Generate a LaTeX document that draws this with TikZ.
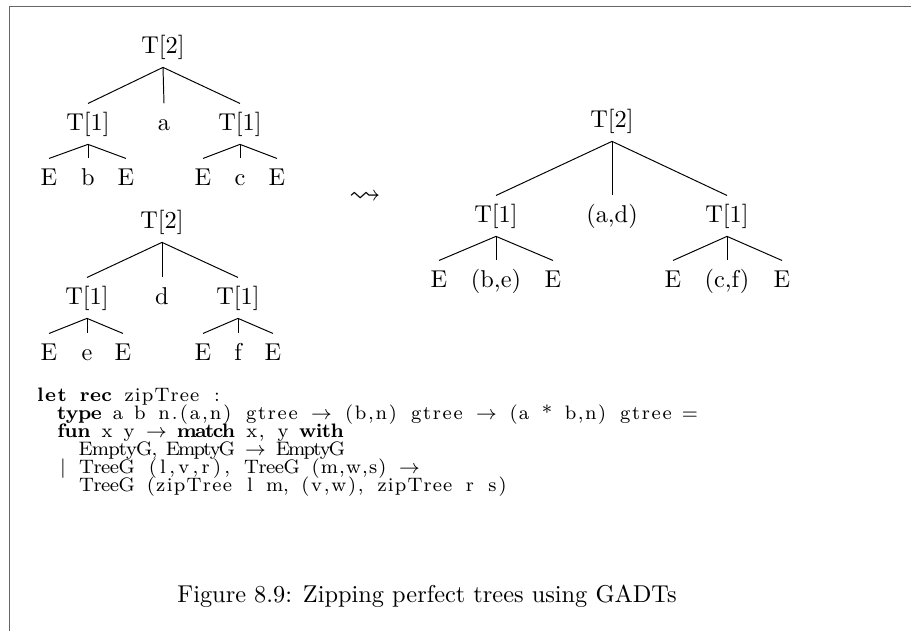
\documentclass[tikz,border=0pt]{standalone}
\usepackage{amssymb}
\usepackage{fontspec}
\newlength\cw
\setlength\cw{4.518pt}
\ExplSyntaxOn
\NewDocumentCommand\lw{m}{\hbox~to~\tl_count:n{#1}\cw{\hss\tl_map_inline:nn{#1}{##1\hss}}}
\ExplSyntaxOff
\newcommand\kw[1]{{\bfseries\lw{#1}}}
\newcommand\spc{\hbox to\cw{}}
\newcommand\ar{\hbox to 2\cw{\hss$\rightarrow$\hss}}
\begin{document}
\begin{tikzpicture}[x=0.4107pt,y=-0.4107pt,
  tn/.style={anchor=base,inner xsep=1pt,inner ysep=3.2pt,text height=7.5pt,text depth=2.5pt,font=\fontsize{10}{12}\selectfont},
  code/.style={anchor=base west,inner sep=0pt,font=\fontsize{8}{9}\selectfont},
  edge/.style={line width=0.4pt},
  frame/.style={black!60,line width=0.6pt}]
\useasboundingbox (0,0) rectangle (911,631);
\coordinate (fbl) at (9.5,631);
\coordinate (ftl) at (9.5,6.5);
\coordinate (ftr) at (911,6.5);
\draw[frame] (fbl) -- (ftl) -- (ftr);

% tree 1
\node[tn] (A) at (163,53) {T[2]};
\node[tn] (A1) at (88,130) {T[1]};
\node[tn] (Aa) at (164,130) {a};
\node[tn] (A2) at (240,130) {T[1]};
\node[tn] (A11) at (49,185) {E};
\node[tn] (A12) at (88,185) {b};
\node[tn] (A13) at (126,185) {E};
\node[tn] (A21) at (203,185) {E};
\node[tn] (A22) at (240,185) {c};
\node[tn] (A23) at (277,185) {E};
\foreach \c in {A1,Aa,A2} \draw[edge] (A.south) -- (\c.north);
\foreach \c in {A11,A12,A13} \draw[edge] (A1.south) -- (\c.north);
\foreach \c in {A21,A22,A23} \draw[edge] (A2.south) -- (\c.north);

% tree 2
\node[tn] (B) at (162,228) {T[2]};
\node[tn] (B1) at (87,304) {T[1]};
\node[tn] (Bd) at (162,304) {d};
\node[tn] (B2) at (238,304) {T[1]};
\node[tn] (B11) at (49,360) {E};
\node[tn] (B12) at (87,360) {e};
\node[tn] (B13) at (123,360) {E};
\node[tn] (B21) at (203,360) {E};
\node[tn] (B22) at (238,360) {f};
\node[tn] (B23) at (273,360) {E};
\foreach \c in {B1,Bd,B2} \draw[edge] (B.south) -- (\c.north);
\foreach \c in {B11,B12,B13} \draw[edge] (B1.south) -- (\c.north);
\foreach \c in {B21,B22,B23} \draw[edge] (B2.south) -- (\c.north);

% tree 3
\node[tn] (C) at (612,127) {T[2]};
\node[tn] (C1) at (496,222) {T[1]};
\node[tn] (Cad) at (612,222) {(a,d)};
\node[tn] (C2) at (727,222) {T[1]};
\node[tn] (C11) at (439,287) {E};
\node[tn] (C12) at (496,287) {(b,e)};
\node[tn] (C13) at (553,287) {E};
\node[tn] (C21) at (673,287) {E};
\node[tn] (C22) at (727,287) {(c,f)};
\node[tn] (C23) at (782,287) {E};
\foreach \c in {C1,Cad,C2} \draw[edge] (C.south) -- (\c.north);
\foreach \c in {C11,C12,C13} \draw[edge] (C1.south) -- (\c.north);
\foreach \c in {C21,C22,C23} \draw[edge] (C2.south) -- (\c.north);

\node[inner sep=0pt,font=\fontsize{13}{15}\selectfont] (arr) at (365,198) {$\leadsto$};

% code (fixed columns)
\node[code] (l1) at (35,401) {\kw{let}\spc\kw{rec}\spc\lw{zipTree}\spc\lw{:}};
\node[code] (l2) at (57,419) {\kw{type}\spc\lw{a}\spc\lw{b}\spc\lw{n.(a,n)}\spc\lw{gtree}\spc\ar\spc\lw{(b,n)}\spc\lw{gtree}\spc\ar\spc\lw{(a}\spc\lw{*}\spc\lw{b,n)}\spc\lw{gtree}\spc\lw{=}};
\node[code] (l3) at (57,437) {\kw{fun}\spc\lw{x}\spc\lw{y}\spc\ar\spc\kw{match}\spc\lw{x,}\spc\lw{y}\spc\kw{with}};
\node[code] (l4) at (79,455) {\lw{EmptyG,}\spc\lw{EmptyG}\spc\ar\spc\lw{EmptyG}};
\node[code] (l5) at (57,473) {\lw{|}\spc\lw{TreeG}\spc\lw{(l,v,r),}\spc\lw{TreeG}\spc\lw{(m,w,s)}\spc\ar};
\node[code] (l6) at (79,491) {\lw{TreeG}\spc\lw{(zipTree}\spc\lw{l}\spc\lw{m,}\spc\lw{(v,w),}\spc\lw{zipTree}\spc\lw{r}\spc\lw{s)}};

\node[anchor=base,inner sep=0pt,font=\fontsize{10}{12}\selectfont] (cap) at (427,602) {Figure 8.9: Zipping perfect trees using GADTs};
\end{tikzpicture}
\end{document}
